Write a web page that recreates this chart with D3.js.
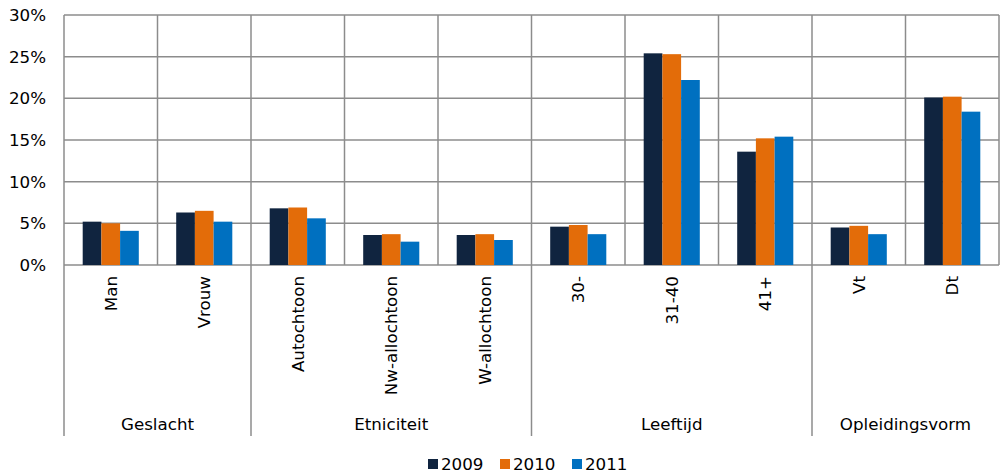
<!DOCTYPE html>
<html>
<head>
<meta charset="utf-8">
<script src="https://cdn.jsdelivr.net/npm/d3@7"></script>
<style>
  body { margin: 0; background: #fff; }
  svg { display: block; font-family: "DejaVu Sans", Verdana, sans-serif; }
</style>
</head>
<body>
<svg id="chart"></svg>
<script>
const categories = ["Man", "Vrouw", "Autochtoon", "Nw-allochtoon", "W-allochtoon", "30-", "31-40", "41+", "Vt", "Dt"];
const groups = [
  { name: "Geslacht", from: 0, to: 2 },
  { name: "Etniciteit", from: 2, to: 5 },
  { name: "Leeftijd", from: 5, to: 8 },
  { name: "Opleidingsvorm", from: 8, to: 10 }
];
const seriesNames = ["2009", "2010", "2011"];
const v2009 = [5.2, 6.3, 6.8, 3.6, 3.6, 4.6, 25.4, 13.6, 4.5, 20.1];
const v2010 = [5.0, 6.5, 6.9, 3.7, 3.7, 4.8, 25.3, 15.2, 4.7, 20.2];
const v2011 = [4.1, 5.2, 5.6, 2.8, 3.0, 3.7, 22.2, 15.4, 3.7, 18.4];
const yTicks = [0, 5, 10, 15, 20, 25, 30];
const colors = ["#10243f", "#e36c09", "#0070c0"];

const width = 1000;
const height = 475;
const margin = { top: 15, right: 1, bottom: 210, left: 64 };
const gridColor = "#8c8c8c";
const fs = 16.7;

const svg = d3.select("#chart").attr("width", width).attr("height", height);

const series = [v2009, v2010, v2011];
const data = categories.map((c, i) => ({ cat: c, vals: series.map((s, k) => ({ key: seriesNames[k], v: s[i] })) }));

// x: categories
const x = d3.scaleBand().domain(categories).range([margin.left, width - margin.right]).padding(0);
const xInner = d3.scaleBand().domain(seriesNames).range([0, x.bandwidth()]).paddingInner(0).paddingOuter(1);

// y
const y = d3.scaleLinear().domain([0, 30]).range([height - margin.bottom, margin.top]);
const y0 = y(0);

// horizontal grid
svg.append("g")
  .selectAll("line")
  .data(yTicks)
  .join("line")
  .attr("x1", margin.left)
  .attr("x2", width - margin.right)
  .attr("y1", d => y(d))
  .attr("y2", d => y(d))
  .attr("stroke", gridColor)
  .attr("stroke-width", 1.5);

// vertical grid between categories
const bounds = categories.map(c => x(c)).concat([width - margin.right]);
svg.append("g")
  .selectAll("line")
  .data(bounds)
  .join("line")
  .attr("x1", d => d)
  .attr("x2", d => d)
  .attr("y1", margin.top)
  .attr("y2", y0)
  .attr("stroke", gridColor)
  .attr("stroke-width", 1.5);

// group separators below axis
const groupBounds = groups.map(g => x(categories[g.from]));
svg.append("g")
  .selectAll("line")
  .data(groupBounds)
  .join("line")
  .attr("x1", d => d)
  .attr("x2", d => d)
  .attr("y1", y0)
  .attr("y2", 436)
  .attr("stroke", gridColor)
  .attr("stroke-width", 1.5);

// bars
svg.append("g")
  .selectAll("g")
  .data(data)
  .join("g")
  .attr("transform", d => `translate(${x(d.cat)},0)`)
  .selectAll("rect")
  .data(d => d.vals)
  .join("rect")
  .attr("x", d => xInner(d.key))
  .attr("y", d => y(d.v))
  .attr("width", xInner.bandwidth())
  .attr("height", d => y0 - y(d.v))
  .attr("fill", (d, i) => colors[i]);

// y tick labels
svg.append("g")
  .selectAll("text")
  .data(yTicks)
  .join("text")
  .attr("x", 46)
  .attr("y", d => y(d))
  .attr("dy", "0.35em")
  .attr("text-anchor", "end")
  .attr("font-size", fs)
  .attr("fill", "#000")
  .text(d => d + "%");

// category labels (rotated)
svg.append("g")
  .selectAll("text")
  .data(categories)
  .join("text")
  .attr("transform", d => `translate(${x(d) + x.bandwidth() / 2 + 6},276) rotate(-90)`)
  .attr("text-anchor", "end")
  .attr("font-size", fs)
  .attr("fill", "#000")
  .text(d => d);

// group labels
svg.append("g")
  .selectAll("text")
  .data(groups)
  .join("text")
  .attr("x", g => (x(categories[g.from]) + (g.to < categories.length ? x(categories[g.to]) : width - margin.right)) / 2)
  .attr("y", 430)
  .attr("text-anchor", "middle")
  .attr("font-size", fs)
  .attr("fill", "#000")
  .text(g => g.name);

// legend
const legend = svg.append("g")
  .selectAll("g")
  .data(seriesNames)
  .join("g")
  .attr("transform", (d, i) => `translate(${428 + i * 72},459)`);
legend.append("rect").attr("width", 10).attr("height", 10).attr("fill", (d, i) => colors[i]);
legend.append("text")
  .attr("x", 13)
  .attr("y", 5)
  .attr("dy", "0.37em")
  .attr("font-size", fs)
  .attr("fill", "#000")
  .text(d => d);
</script>
</body>
</html>
